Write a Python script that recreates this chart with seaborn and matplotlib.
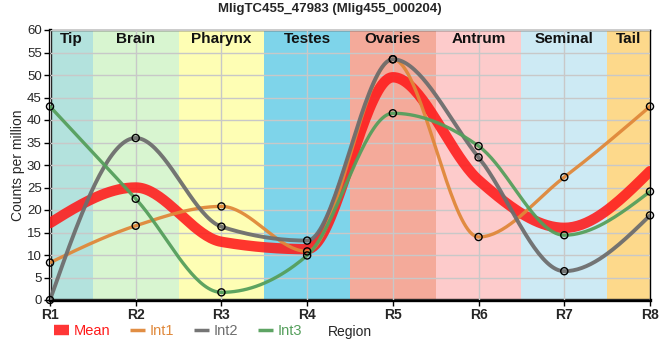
import numpy as np
import pandas as pd
import matplotlib
matplotlib.use('Agg')
import matplotlib.pyplot as plt
import seaborn as sns
from matplotlib.lines import Line2D

# data
regions = ['R1', 'R2', 'R3', 'R4', 'R5', 'R6', 'R7', 'R8']
tissues = ['Tip', 'Brain', 'Pharynx', 'Testes', 'Ovaries', 'Antrum', 'Seminal', 'Tail']
tissue_colors = ['#b3e2dd', '#d8f5d0', '#fefeb4', '#7ed4ea', '#f4aa9a', '#fdcbcb', '#cdeaf4', '#fdd98b']
int1 = [8.3, 16.5, 20.8, 10.8, 53.5, 14.0, 27.3, 43.0]
int2 = [0.0, 36.0, 16.3, 13.2, 53.5, 31.7, 6.4, 18.8]
int3 = [43.0, 22.5, 1.7, 9.9, 41.5, 34.2, 14.4, 24.1]
mean = list(np.mean([int1, int2, int3], axis=0))


def monotone_curve(y, n=40):
    # monotone cubic (d3 curveMonotoneX style) through points at x = 0..len-1
    y = np.asarray(y, float)
    s = np.diff(y)
    t = np.zeros(len(y))
    for i in range(1, len(y) - 1):
        p = (s[i - 1] + s[i]) / 2
        t[i] = (np.sign(s[i - 1]) + np.sign(s[i])) * min(abs(s[i - 1]), abs(s[i]), 0.5 * abs(p))
    t[0] = (3 * s[0] - t[1]) / 2
    t[-1] = (3 * s[-1] - t[-2]) / 2
    xs, ys = [], []
    for i in range(len(y) - 1):
        u = np.linspace(0, 1, n, endpoint=(i == len(y) - 2))
        h00 = 2 * u**3 - 3 * u**2 + 1
        h10 = u**3 - 2 * u**2 + u
        h01 = -2 * u**3 + 3 * u**2
        h11 = u**3 - u**2
        xs.append(i + u)
        ys.append(h00 * y[i] + h10 * t[i] + h01 * y[i + 1] + h11 * t[i + 1])
    return np.concatenate(xs), np.concatenate(ys)


sns.set_style('white')
plt.rcParams['font.family'] = ['Liberation Sans', 'DejaVu Sans']

fig = plt.figure(figsize=(6.6, 3.6), dpi=100)
ax = fig.add_axes([50 / 660, 60 / 360, 600 / 660, 270 / 360])

# background bands
for i, (name, col) in enumerate(zip(tissues, tissue_colors)):
    lo = max(i - 0.5, 0)
    hi = min(i + 0.5, len(regions) - 1)
    ax.axvspan(lo, hi, color=col, lw=0, zorder=0)
    ax.text((lo + hi) / 2, 57.9, name, ha='center', va='center',
            fontsize=11, fontweight='bold', color='#111111', zorder=5)

ax.set_axisbelow(False)
ax.grid(True, color='#c8c8c8', lw=1, zorder=1)

x = np.arange(len(regions))
series = [('Mean', mean, '#ff1a1a', 7.5, 0.88),
          ('Int1', int1, '#e0883a', 2.4, 0.95),
          ('Int2', int2, '#6e6e6e', 2.8, 0.95),
          ('Int3', int3, '#559f5c', 2.4, 0.95)]

for name, vals, col, lw, a in series:
    cx, cy = monotone_curve(vals)
    sns.lineplot(x=cx, y=cy, color=col, lw=lw, alpha=a, ax=ax, zorder=3, sort=False)

for name, vals, col, lw, a in series[1:]:
    sns.scatterplot(x=x, y=vals, marker='o', s=26, facecolor='none',
                    edgecolor='black', linewidth=1.0, ax=ax, zorder=4, clip_on=False)

ax.set_xlim(0, len(regions) - 1)
ax.set_ylim(0, 60)
ax.set_xticks(x)
ax.set_xticklabels(regions, fontweight='bold', fontsize=10)
ax.set_yticks(np.arange(0, 61, 5))
ax.tick_params(axis='y', labelsize=9.5, length=4, width=1, color='black', pad=2, left=True)
ax.tick_params(axis='x', length=4, width=1, color='black', pad=2, bottom=True)

for side in ['left', 'bottom']:
    ax.spines[side].set_linewidth(2.4)
    ax.spines[side].set_color('black')
for side in ['top', 'right']:
    ax.spines[side].set_linewidth(1)
    ax.spines[side].set_color('black')
    ax.spines[side].set_visible(True)

ax.set_ylabel('Counts per million', fontsize=10, labelpad=1)
ax.set_xlabel('Region', fontsize=10, labelpad=2)
fig.text(330 / 660, 1 - 9 / 360, 'MligTC455_47983 (Mlig455_000204)', ha='center', va='center',
         fontsize=9.5, fontweight='bold')

handles = [Line2D([], [], color=col, lw=(7.5 if name == 'Mean' else 2.5), alpha=a,
                  solid_capstyle='butt')
           for name, vals, col, lw, a in series]
leg = fig.legend(handles, [s[0] for s in series], loc='center left',
                 bbox_to_anchor=(54 / 660, 1 - 331 / 360), ncol=4, frameon=False,
                 fontsize=10.5, handlelength=1.05, handletextpad=0.3, columnspacing=1.35,
                 borderaxespad=0, borderpad=0)
for txt, s in zip(leg.get_texts(), series):
    txt.set_color(s[2])

fig.savefig('out.png', dpi=100)
